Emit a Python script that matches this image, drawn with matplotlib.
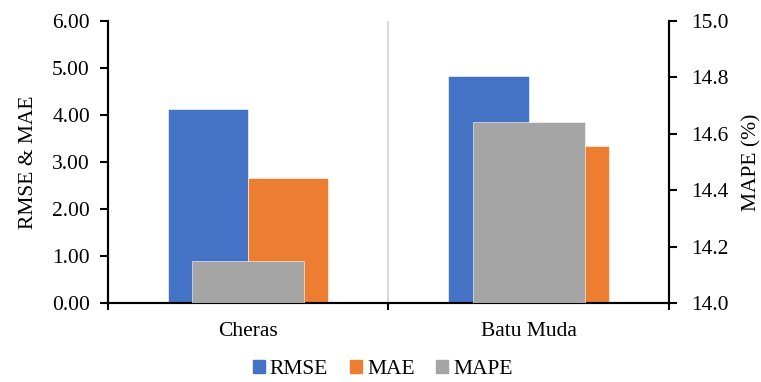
import numpy as np
import matplotlib.pyplot as plt
from matplotlib.patches import Patch

plt.rcParams['font.family'] = ['Liberation Serif', 'DejaVu Serif']

# data
stations = ['Cheras', 'Batu Muda']
rmse = [4.12, 4.84]
mae = [2.65, 3.35]
mape = [14.15, 14.64]

c_rmse = '#4472C4'
c_mae = '#ED7D31'
c_mape = '#A5A5A5'

fig = plt.figure(figsize=(7.61, 3.82), dpi=100)
ax = fig.add_axes([0.1419, 0.207, 0.737, 0.738])
x = np.arange(len(stations))
w = 0.286

ax.bar(x - w / 2, rmse, w, color=c_rmse, edgecolor='white', linewidth=0.4, zorder=2)
ax.bar(x + w / 2, mae, w, color=c_mae, edgecolor='white', linewidth=0.4, zorder=2)
ax.set_ylim(0, 6)
ax.set_yticks(np.arange(0, 6.01, 1))
ax.set_yticklabels([f'{v:.2f}' for v in np.arange(0, 6.01, 1)])
ax.set_xlim(-0.5, 1.5)
ax.set_xticks(x)
ax.set_xticklabels(stations)
ax.set_xticks([-0.5, 0.5, 1.5], minor=True)
ax.tick_params(axis='x', which='major', length=0, pad=14, labelsize=15.5)
ax.tick_params(axis='x', which='minor', length=5, width=1.5, direction='out')
ax.tick_params(axis='y', length=6, width=1.5, labelsize=15.5, pad=7)
ax.axvline(0.5, color='#D9D9D9', linewidth=1.5, zorder=1)
ax.set_ylabel('RMSE & MAE', fontsize=15.5, labelpad=10)
for s in ['left', 'bottom', 'right']:
    ax.spines[s].set_linewidth(1.5)
ax.spines['top'].set_visible(False)

ax2 = ax.twinx()
ax2.bar(x, mape, 0.4, color=c_mape, edgecolor='white', linewidth=0.4, zorder=3)
ax2.set_ylim(14.0, 15.0)
ax2.set_yticks(np.arange(14.0, 15.01, 0.2))
ax2.set_yticklabels([f'{v:.1f}' for v in np.arange(14.0, 15.01, 0.2)])
ax2.tick_params(axis='y', length=6, width=1.5, labelsize=15.5, pad=10)
ax2.set_ylabel('MAPE (%)', fontsize=15.5, labelpad=10)
for s in ['left', 'bottom', 'right']:
    ax2.spines[s].set_linewidth(1.5)
ax2.spines['top'].set_visible(False)

handles = [Patch(color=c_rmse, label='RMSE'),
           Patch(color=c_mae, label='MAE'),
           Patch(color=c_mape, label='MAPE')]
fig.legend(handles=handles, loc='center', bbox_to_anchor=(0.503, 0.032), ncol=3,
           frameon=False, fontsize=15.5, handlelength=0.55, handleheight=0.55,
           handletextpad=0.25, columnspacing=1.0, borderpad=0.1)

fig.savefig('out.png', dpi=100)
